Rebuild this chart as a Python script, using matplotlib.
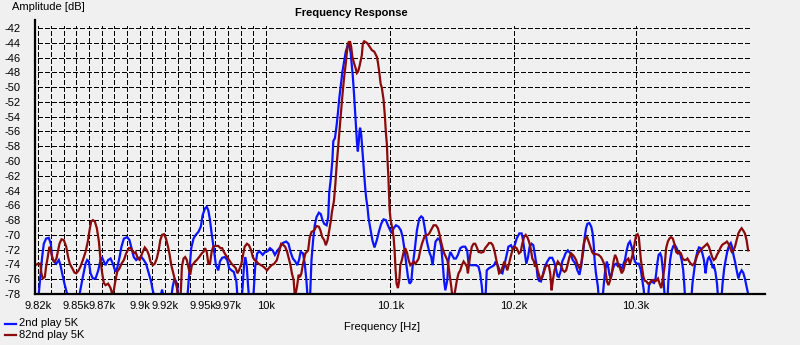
import matplotlib
matplotlib.use("Agg")
import matplotlib.pyplot as plt
from matplotlib.lines import Line2D

plt.rcParams["font.family"] = ["Liberation Sans", "DejaVu Sans"]
plt.rcParams["font.size"] = 8

# --- measured spectra -------------------------------------------------------
series_labels = ["2nd play 5K", "82nd play 5K"]
series_colors = ["#0a14ff", "#8b0a0a"]

blue_hz = [
    9820.0, 9821.8, 9823.2, 9824.5, 9826.3, 9828.4, 9830.0, 9831.0, 9832.3, 9834.2,
    9836.3, 9837.6, 9838.9, 9840.7, 9842.8, 9844.5, 9851.0, 9852.6, 9854.7, 9857.3,
    9858.6, 9859.9, 9861.2, 9863.1, 9865.2, 9867.3, 9869.1, 9870.4, 9873.0, 9875.1,
    9877.0, 9878.8, 9880.9, 9882.2, 9884.1, 9885.6, 9887.5, 9890.1, 9891.9, 9894.0,
    9895.3, 9897.2, 9899.3, 9901.4, 9903.2, 9905.0, 9907.2, 9909.0, 9910.3, 9911.1,
    9912.5, 9915.0, 9917.7, 9920.3, 9924.2, 9926.1, 9927.6, 9929.5, 9931.3, 9937.3,
    9939.2, 9940.8, 9942.6, 9944.4, 9946.5, 9948.4, 9949.9, 9951.8, 9953.1, 9954.4,
    9955.7, 9957.0, 9958.9, 9960.4, 9962.3, 9963.6, 9965.4, 9967.5, 9969.4, 9970.9,
    9972.8, 9974.6, 9976.7, 9978.0, 9980.7, 9982.8, 9983.8, 9984.9, 9985.9, 9987.2,
    9989.8, 9991.7, 9993.3, 9995.1, 9997.7, 9999.6, 10001.7, 10003.5, 10005.6, 10007.4,
    10009.5, 10011.0, 10013.7, 10016.4, 10018.3, 10019.9, 10021.8, 10023.7, 10025.3, 10026.7,
    10028.0, 10029.9, 10031.3, 10032.6, 10034.0, 10035.3, 10036.7, 10038.0, 10039.3, 10040.7,
    10042.6, 10044.2, 10045.5, 10046.9, 10048.8, 10050.1, 10050.9, 10052.0, 10053.4, 10054.2,
    10055.5, 10056.9, 10058.0, 10059.0, 10060.1, 10061.5, 10062.8, 10064.2, 10065.5, 10066.3,
    10067.1, 10068.2, 10069.0, 10069.8, 10070.9, 10071.7, 10072.5, 10073.3, 10073.9, 10074.7,
    10075.2, 10075.7, 10076.6, 10077.4, 10078.2, 10079.0, 10079.8, 10080.6, 10081.7, 10082.5,
    10083.8, 10085.7, 10087.3, 10089.2, 10091.1, 10092.7, 10094.6, 10096.5, 10098.1, 10100.0,
    10101.3, 10102.7, 10104.6, 10106.7, 10108.6, 10110.0, 10111.6, 10112.9, 10114.3, 10115.6,
    10117.0, 10118.0, 10119.7, 10121.5, 10123.4, 10125.0, 10126.4, 10127.7, 10129.6, 10131.5,
    10133.1, 10134.2, 10135.3, 10136.6, 10138.5, 10140.1, 10141.2, 10142.6, 10143.4, 10144.5,
    10146.1, 10147.1, 10148.5, 10149.8, 10151.5, 10153.1, 10154.7, 10156.6, 10158.5, 10160.6,
    10162.2, 10163.3, 10164.9, 10167.4, 10169.5, 10171.4, 10172.7, 10174.1, 10175.4, 10176.8,
    10178.1, 10180.0, 10182.2, 10184.1, 10185.4, 10187.0, 10188.9, 10190.8, 10192.4, 10194.3,
    10195.7, 10197.8, 10198.9, 10200.5, 10202.4, 10204.6, 10206.5, 10207.6, 10208.9, 10210.3,
    10211.7, 10213.0, 10214.6, 10216.0, 10217.3, 10218.4, 10219.5, 10220.6, 10222.2, 10223.8,
    10225.4, 10227.4, 10229.3, 10231.4, 10232.8, 10234.1, 10235.8, 10236.8, 10238.5, 10239.6,
    10241.2, 10242.3, 10244.2, 10246.3, 10248.2, 10250.4, 10252.0, 10253.7, 10255.0, 10256.9,
    10258.0, 10259.1, 10260.2, 10261.8, 10263.4, 10264.5, 10265.3, 10266.1, 10267.2, 10268.8,
    10269.9, 10272.1, 10273.7, 10274.8, 10276.1, 10277.2, 10278.3, 10279.4, 10280.8, 10282.1,
    10283.7, 10285.1, 10286.4, 10287.8, 10289.4, 10291.0, 10292.4, 10293.8, 10295.1, 10296.5,
    10297.8, 10299.2, 10300.5, 10302.4, 10304.1, 10305.4, 10306.5, 10307.3, 10309.5, 10310.8,
    10312.7, 10314.9, 10316.2, 10317.6, 10318.7, 10320.0, 10321.1, 10322.2, 10323.0, 10324.1,
    10325.7, 10326.8, 10328.2, 10329.5, 10330.9, 10332.2, 10333.6, 10335.0, 10336.3, 10337.7,
    10339.0, 10339.8, 10340.9, 10345.3, 10346.6, 10348.0, 10349.3, 10350.7, 10352.0, 10353.4,
    10354.8, 10356.1, 10357.5, 10358.3, 10359.4, 10360.4, 10362.1, 10363.4, 10364.2, 10365.6,
    10366.9, 10368.3, 10370.2, 10371.5, 10372.9, 10374.3, 10375.6, 10377.0, 10378.3, 10379.4,
    10380.5, 10381.8, 10383.2, 10384.6, 10385.9, 10387.3, 10388.6, 10390.0, 10391.4, 10392.7,
]
blue_db = [
    -79.0, -75.7, -73.0, -71.2, -70.5, -70.4, -71.2, -73.0, -73.6, -73.9,
    -73.4, -74.1, -75.2, -76.6, -78.0, -79.5, -79.5, -78.0, -76.1, -73.9,
    -73.4, -73.6, -75.2, -75.9, -75.9, -74.8, -73.4, -73.1, -74.1, -73.4,
    -73.2, -73.9, -75.0, -74.5, -73.0, -71.6, -70.5, -70.3, -70.7, -72.1,
    -73.0, -73.4, -73.1, -73.0, -73.4, -73.9, -75.2, -76.3, -77.5, -78.0,
    -79.5, -79.5, -77.4, -79.5, -79.5, -77.0, -75.9, -76.6, -79.5, -79.5,
    -75.2, -71.8, -70.5, -70.0, -69.6, -68.9, -67.3, -66.4, -66.2, -66.7,
    -68.0, -69.8, -72.1, -74.1, -74.8, -73.6, -73.1, -73.0, -73.4, -74.5,
    -74.8, -75.0, -76.3, -79.5, -79.5, -74.1, -73.0, -74.1, -76.6, -79.5,
    -79.5, -74.3, -72.5, -72.2, -72.7, -72.3, -72.2, -71.8, -72.1, -72.7,
    -72.1, -71.8, -71.1, -70.9, -71.2, -72.3, -73.2, -73.6, -74.1, -73.4,
    -72.3, -72.5, -73.9, -76.1, -79.5, -79.5, -73.4, -70.7, -68.7, -67.6,
    -67.0, -67.2, -68.0, -68.5, -68.7, -67.6, -64.3, -62.7, -60.0, -57.3,
    -56.9, -55.1, -53.3, -51.5, -49.9, -47.9, -46.6, -45.2, -44.5, -44.0,
    -44.5, -45.4, -47.0, -48.4, -51.1, -53.3, -55.5, -57.8, -58.7, -57.3,
    -56.0, -55.5, -56.4, -58.2, -60.0, -61.8, -63.6, -65.0, -66.3, -67.7,
    -69.0, -70.8, -71.7, -70.7, -69.4, -68.5, -67.9, -68.0, -68.7, -69.4,
    -69.8, -69.1, -68.7, -68.9, -69.4, -70.3, -72.1, -73.9, -75.7, -76.6,
    -76.3, -74.3, -72.1, -69.4, -67.8, -67.5, -67.7, -68.9, -70.9, -72.3,
    -73.0, -74.1, -72.5, -70.9, -70.5, -70.7, -71.6, -74.3, -76.1, -77.5,
    -76.1, -73.4, -72.3, -72.7, -73.2, -73.2, -72.7, -71.8, -71.6, -71.6,
    -72.1, -73.9, -74.1, -74.1, -74.1, -74.3, -75.2, -77.0, -79.5, -79.5,
    -74.8, -74.5, -74.3, -74.1, -73.6, -74.1, -75.0, -75.2, -74.1, -72.7,
    -71.6, -71.4, -71.8, -71.6, -70.5, -69.8, -69.8, -70.7, -72.3, -73.9,
    -73.0, -71.6, -71.2, -71.4, -72.7, -73.9, -75.7, -76.2, -76.3, -75.4,
    -74.3, -73.6, -73.1, -73.1, -73.6, -74.3, -75.6, -75.7, -74.8, -73.6,
    -73.0, -72.5, -72.1, -72.5, -73.4, -73.9, -74.8, -75.4, -74.3, -72.1,
    -70.3, -69.1, -68.5, -68.4, -68.9, -69.8, -71.2, -73.4, -75.2, -77.0,
    -79.5, -79.5, -76.6, -74.8, -73.6, -74.3, -75.4, -75.9, -74.8, -74.1,
    -73.9, -74.2, -73.9, -74.8, -74.1, -73.4, -72.1, -71.2, -70.9, -71.6,
    -72.7, -73.6, -73.9, -73.9, -74.8, -76.3, -77.5, -79.5, -79.5, -76.8,
    -76.3, -76.5, -75.9, -73.9, -72.7, -72.5, -73.0, -74.8, -76.6, -79.5,
    -79.5, -76.1, -73.4, -72.1, -71.5, -71.4, -71.8, -72.5, -72.5, -73.4,
    -74.8, -76.6, -79.5, -79.5, -76.6, -74.8, -73.2, -72.3, -71.7, -71.8,
    -72.5, -73.4, -75.2, -74.1, -73.2, -73.0, -73.6, -74.5, -74.1, -75.0,
    -76.6, -79.5, -79.5, -76.6, -74.5, -73.2, -72.1, -71.4, -71.1, -71.6,
    -72.7, -73.6, -74.8, -75.9, -75.2, -74.8, -75.1, -75.9, -77.0, -78.0,
]

red_hz = [
    9818.0, 9820.0, 9821.8, 9822.6, 9823.7, 9825.3, 9826.3, 9827.6, 9828.9, 9830.2,
    9831.6, 9833.1, 9834.4, 9835.5, 9836.8, 9838.4, 9840.2, 9842.1, 9843.6, 9844.9,
    9846.8, 9848.6, 9849.9, 9851.5, 9853.3, 9855.2, 9857.3, 9859.1, 9860.4, 9861.7,
    9863.1, 9864.6, 9866.2, 9867.8, 9869.1, 9870.4, 9871.7, 9873.0, 9875.1, 9877.0,
    9878.3, 9879.6, 9880.4, 9882.2, 9884.1, 9885.6, 9887.5, 9889.3, 9891.4, 9893.2,
    9895.3, 9896.7, 9898.5, 9900.1, 9901.9, 9904.0, 9905.8, 9907.2, 9908.5, 9910.3,
    9911.9, 9913.5, 9915.0, 9916.3, 9917.7, 9919.2, 9920.8, 9922.4, 9923.7, 9925.0,
    9926.3, 9927.6, 9928.7, 9929.5, 9930.8, 9932.1, 9933.4, 9934.7, 9936.0, 9937.3,
    9938.7, 9940.0, 9941.3, 9942.6, 9943.9, 9945.2, 9947.1, 9949.2, 9950.5, 9951.8,
    9953.1, 9954.4, 9955.7, 9957.0, 9958.3, 9960.2, 9962.3, 9964.1, 9965.4, 9966.7,
    9968.1, 9969.4, 9970.9, 9972.8, 9974.6, 9976.2, 9977.5, 9978.8, 9980.7, 9982.0,
    9983.3, 9985.1, 9986.7, 9988.5, 9989.8, 9991.2, 9992.7, 9994.3, 9996.4, 9999.0,
    10001.1, 10003.0, 10004.8, 10006.9, 10009.0, 10011.0, 10012.4, 10013.7, 10015.6, 10017.2,
    10018.9, 10019.9, 10021.0, 10022.4, 10023.2, 10024.0, 10025.1, 10026.4, 10027.5, 10028.6,
    10029.9, 10031.8, 10034.0, 10035.3, 10036.7, 10038.8, 10040.7, 10042.6, 10043.9, 10045.3,
    10046.9, 10048.2, 10049.6, 10050.9, 10052.3, 10053.0, 10054.7, 10055.8, 10056.9, 10058.2,
    10059.0, 10060.4, 10061.5, 10062.8, 10064.2, 10065.0, 10065.8, 10066.6, 10067.7, 10068.5,
    10069.5, 10070.9, 10072.2, 10073.1, 10074.1, 10075.2, 10076.3, 10077.1, 10077.9, 10079.0,
    10080.1, 10081.7, 10083.3, 10085.2, 10087.1, 10089.2, 10090.0, 10091.1, 10092.2, 10093.3,
    10094.6, 10095.7, 10096.5, 10097.3, 10097.8, 10098.4, 10098.9, 10099.5, 10100.3, 10101.4,
    10102.7, 10103.5, 10104.3, 10105.1, 10106.2, 10107.3, 10108.1, 10109.4, 10110.8, 10112.1,
    10113.5, 10114.8, 10116.2, 10117.5, 10118.9, 10120.2, 10121.5, 10122.9, 10124.2, 10125.6,
    10127.5, 10128.8, 10130.4, 10131.5, 10133.1, 10135.0, 10136.9, 10138.5, 10139.9, 10141.0,
    10142.3, 10143.6, 10145.0, 10146.1, 10147.1, 10148.2, 10149.3, 10150.7, 10152.5, 10153.9,
    10155.2, 10156.6, 10157.9, 10159.3, 10160.6, 10162.0, 10162.8, 10163.6, 10164.7, 10166.0,
    10167.4, 10168.7, 10170.1, 10171.4, 10173.6, 10175.4, 10176.8, 10178.7, 10180.0, 10181.6,
    10183.0, 10184.3, 10185.4, 10186.8, 10188.1, 10189.5, 10191.1, 10192.4, 10193.5, 10194.8,
    10196.2, 10197.5, 10198.9, 10200.5, 10202.4, 10204.3, 10205.7, 10207.0, 10208.4, 10209.8,
    10211.1, 10212.5, 10213.8, 10215.2, 10216.5, 10217.3, 10218.4, 10219.5, 10220.6, 10222.0,
    10223.3, 10224.7, 10226.0, 10227.4, 10228.7, 10229.8, 10230.9, 10232.0, 10233.3, 10234.7,
    10236.0, 10237.4, 10238.7, 10240.1, 10241.5, 10242.8, 10244.2, 10245.5, 10246.9, 10248.2,
    10249.6, 10250.9, 10252.3, 10253.7, 10255.0, 10256.4, 10257.2, 10258.5, 10259.9, 10261.2,
    10262.6, 10264.0, 10265.3, 10267.2, 10269.4, 10271.3, 10272.6, 10274.3, 10275.3, 10276.2,
    10277.5, 10278.9, 10280.2, 10281.6, 10282.9, 10284.3, 10285.6, 10287.0, 10288.3, 10289.7,
    10291.1, 10292.4, 10293.8, 10295.1, 10296.5, 10297.8, 10299.2, 10300.3, 10301.4, 10302.4,
    10303.2, 10304.1, 10305.1, 10306.2, 10307.3, 10308.7, 10310.0, 10311.4, 10312.7, 10314.1,
    10315.4, 10316.8, 10318.2, 10319.5, 10320.9, 10322.2, 10323.6, 10324.9, 10326.3, 10327.6,
    10329.0, 10330.4, 10331.7, 10333.1, 10334.4, 10335.8, 10337.1, 10338.5, 10339.8, 10341.2,
    10342.5, 10343.9, 10345.3, 10346.6, 10348.0, 10349.3, 10350.7, 10352.0, 10353.4, 10354.8,
    10356.1, 10357.5, 10358.8, 10360.2, 10361.5, 10362.9, 10364.2, 10365.6, 10366.9, 10368.3,
    10369.6, 10371.0, 10372.4, 10373.7, 10375.1, 10376.4, 10377.8, 10379.1, 10380.5, 10381.8,
    10383.2, 10384.6, 10385.9, 10387.3, 10388.6, 10390.0, 10391.4, 10392.7,
]
red_db = [
    -74.1, -73.9, -73.9, -75.2, -75.9, -75.7, -74.3, -73.0, -71.6, -72.3,
    -73.4, -73.6, -73.2, -72.3, -71.2, -70.6, -70.7, -71.6, -73.0, -73.9,
    -74.5, -75.1, -75.2, -74.9, -74.3, -73.4, -72.3, -70.9, -69.4, -68.2,
    -68.0, -68.2, -69.1, -70.9, -73.4, -75.2, -76.5, -76.8, -76.6, -77.2,
    -78.0, -77.5, -76.6, -75.0, -74.5, -73.9, -73.4, -72.5, -71.8, -71.8,
    -72.5, -72.3, -73.2, -73.4, -72.5, -71.7, -72.1, -72.7, -73.6, -74.1,
    -73.9, -73.2, -72.1, -70.7, -70.0, -69.9, -70.5, -71.6, -72.7, -74.1,
    -75.0, -75.9, -76.6, -77.2, -79.5, -79.5, -74.3, -73.2, -73.0, -73.4,
    -74.5, -75.4, -74.1, -73.9, -73.6, -73.4, -73.0, -72.5, -72.3, -71.8,
    -72.3, -73.9, -73.9, -72.3, -71.6, -71.5, -71.5, -71.8, -71.8, -72.3,
    -72.7, -73.0, -73.4, -73.9, -74.2, -74.5, -75.2, -74.8, -73.9, -72.7,
    -71.6, -71.2, -71.4, -72.1, -73.0, -73.4, -73.6, -73.9, -74.1, -74.4,
    -74.8, -74.4, -74.1, -73.9, -73.4, -72.1, -71.2, -71.3, -71.6, -72.3,
    -73.4, -74.1, -75.2, -76.1, -77.9, -78.0, -77.0, -75.4, -75.7, -75.2,
    -73.9, -72.5, -72.1, -70.3, -69.6, -69.4, -68.8, -68.9, -69.4, -70.3,
    -70.7, -71.4, -70.7, -69.4, -68.0, -67.0, -65.4, -63.2, -60.5, -57.8,
    -56.0, -53.3, -51.1, -48.8, -46.8, -45.4, -44.3, -43.9, -43.9, -44.5,
    -45.9, -46.8, -47.5, -48.1, -47.9, -47.2, -46.3, -45.7, -44.1, -43.8,
    -43.9, -44.1, -44.5, -45.0, -45.2, -45.9, -46.6, -47.9, -49.5, -50.2,
    -51.7, -54.0, -56.2, -57.8, -60.0, -61.8, -64.1, -66.6, -68.0, -68.9,
    -70.3, -72.1, -74.8, -76.6, -77.2, -76.1, -74.1, -73.4, -72.3, -71.8,
    -72.4, -73.4, -74.1, -73.9, -73.6, -73.9, -73.6, -73.2, -72.1, -71.2,
    -70.3, -70.0, -70.0, -69.8, -69.3, -68.7, -68.7, -69.1, -70.0, -70.9,
    -71.8, -72.5, -73.0, -73.4, -74.3, -75.7, -77.0, -79.0, -77.5, -76.1,
    -75.2, -74.8, -74.1, -73.6, -73.9, -74.3, -75.2, -74.1, -72.7, -71.6,
    -71.2, -71.2, -71.7, -72.3, -72.4, -72.3, -71.8, -71.4, -71.1, -71.1,
    -71.4, -72.1, -73.0, -74.1, -75.2, -75.0, -74.3, -73.6, -74.1, -74.8,
    -73.9, -73.0, -72.1, -71.6, -71.8, -72.5, -72.3, -71.2, -70.3, -70.0,
    -70.3, -70.9, -71.8, -73.2, -73.6, -74.3, -73.9, -74.8, -75.4, -76.1,
    -75.7, -75.0, -74.3, -74.1, -74.2, -75.2, -77.5, -76.1, -74.8, -74.1,
    -73.6, -73.9, -74.2, -74.8, -75.0, -74.8, -73.9, -73.0, -72.5, -72.7,
    -73.0, -73.4, -74.1, -74.5, -74.1, -72.3, -71.2, -70.5, -70.3, -70.9,
    -71.6, -72.3, -72.6, -72.6, -72.7, -73.0, -73.4, -74.1, -75.2, -76.3,
    -76.8, -76.1, -75.2, -73.6, -72.7, -73.2, -74.1, -74.5, -75.2, -74.8,
    -73.9, -73.4, -73.2, -73.9, -73.2, -72.3, -70.9, -70.0, -69.9, -70.3,
    -71.8, -73.4, -74.5, -75.7, -76.2, -76.3, -76.6, -76.5, -76.2, -76.1,
    -76.3, -76.2, -75.9, -76.6, -77.2, -75.9, -74.3, -71.8, -70.9, -70.5,
    -70.3, -70.5, -71.2, -72.3, -72.5, -72.3, -72.5, -73.2, -73.4, -73.4,
    -73.2, -73.6, -73.9, -74.1, -73.9, -73.4, -72.7, -72.3, -72.1, -71.8,
    -71.6, -71.4, -71.2, -71.6, -72.3, -73.0, -73.4, -73.2, -72.7, -72.3,
    -71.8, -71.4, -71.2, -71.1, -70.9, -71.2, -71.8, -72.3, -72.1, -71.6,
    -70.7, -69.8, -69.4, -69.1, -69.4, -69.8, -70.7, -72.1,
]

y_ticks = list(range(-78, -40, 2))
x_tick_hz = [9820, 9850, 9870, 9900, 9920, 9950, 9970, 10000, 10100, 10200, 10300]
x_tick_labels = ["9.82k", "9.85k", "9.87k", "9.9k", "9.92k", "9.95k", "9.97k",
                 "10k", "10.1k", "10.2k", "10.3k"]
x_grid_hz = list(range(9820, 10000, 10)) + [10000, 10100, 10200, 10300]

bg = "#f0f0f0"
W, H = 800, 345

fig = plt.figure(figsize=(W / 100, H / 100), dpi=100, facecolor=bg)
# plot area in pixels: left 35, right 765, top 20, bottom 294
ax = fig.add_axes([35 / W, (H - 294) / H, 730 / W, 274 / H], facecolor=bg)
ax.set_xscale("log")
x_lo, x_hi, x_grid_end = 9817.6, 10406.7, 10394.0
y_lo, y_hi = -78.0, -40.92
ax.set_xlim(x_lo, x_hi)
ax.set_ylim(y_lo, y_hi)

# dashed grid, drawn crisp
grid_kw = dict(color="black", linewidth=0.75, linestyle=(0, (4, 2)), zorder=1,
               antialiased=False)
ax.hlines(y_ticks[1:], x_grid_hz[0], x_grid_end, **grid_kw)
ax.vlines(x_grid_hz, y_lo, -41.7, **grid_kw)

lines = []
for hz, db, color in [(blue_hz, blue_db, series_colors[0]), (red_hz, red_db, series_colors[1])]:
    ln, = ax.plot(hz, db, color=color, linewidth=1.6, solid_joinstyle="miter", zorder=3)
    lines.append(ln)

for side in ["top", "right"]:
    ax.spines[side].set_visible(False)
for side in ["left", "bottom"]:
    ax.spines[side].set_linewidth(1.6)
    ax.spines[side].set_zorder(4)

ax.set_yticks(y_ticks)
ax.set_yticklabels([str(v) for v in y_ticks])
ax.set_xticks(x_tick_hz)
ax.set_xticklabels(x_tick_labels)
ax.xaxis.set_minor_locator(matplotlib.ticker.NullLocator())
ax.tick_params(axis="y", length=0, pad=10.5, labelsize=8)
ax.tick_params(axis="x", length=0, pad=5, labelsize=8)

fig.text(12 / W, 1 - 10.5 / H, "Amplitude [dB]", fontsize=8, va="baseline", ha="left")
fig.text(351 / W, 1 - 15.7 / H, "Frequency Response", fontsize=8, fontweight="bold",
         va="baseline", ha="center")
fig.text(382 / W, 1 - 330 / H, "Frequency [Hz]", fontsize=8, va="baseline", ha="center")

# legend at the lower left corner
for i, (ln, label) in enumerate(zip(lines, series_labels)):
    yc = 1 - (323.5 + 11.5 * i) / H
    fig.add_artist(Line2D([5 / W, 16 / W], [yc, yc], color=ln.get_color(), linewidth=1.6))
    fig.text(19 / W, yc, label, fontsize=8, va="center", ha="left")

fig.savefig("out.png", dpi=100, facecolor=bg)
